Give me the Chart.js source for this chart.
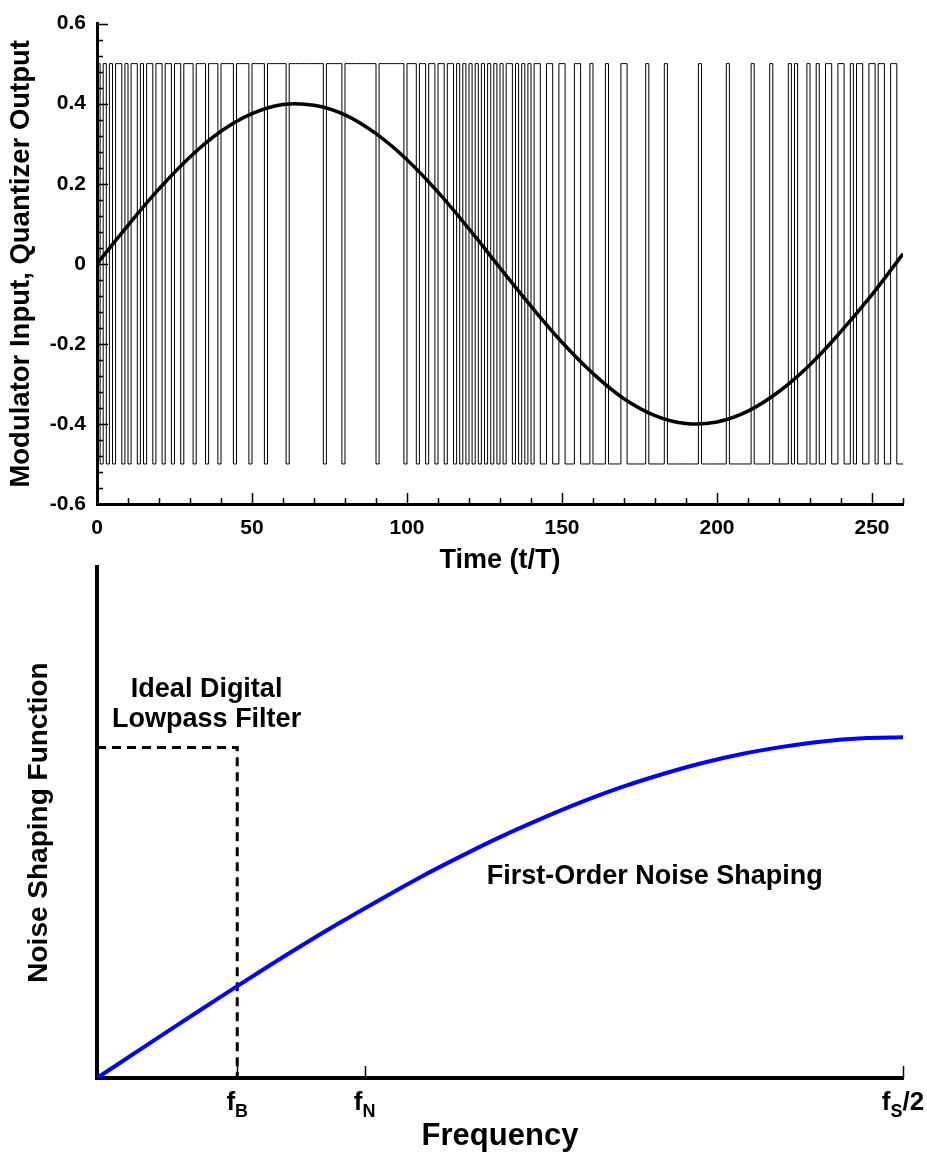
<!DOCTYPE html>
<html>
<head>
<meta charset="utf-8">
<script src="https://cdn.jsdelivr.net/npm/chart.js@4.4.1/dist/chart.umd.min.js"></script>
<style>
  html, body { margin: 0; padding: 0; background: #fff; }
  body { width: 927px; height: 1155px; position: relative; overflow: hidden; }
  canvas { position: absolute; left: 0; }
  #timeChart { top: 0; }
  #noiseChart { top: 545px; }
</style>
</head>
<body>
<canvas id="timeChart" width="927" height="580"></canvas>
<canvas id="noiseChart" width="927" height="610"></canvas>
<script>
const FONT = '"Liberation Sans", Arial, Helvetica, sans-serif';

// ---- top chart: modulator input and quantizer output ----
const inputTimes = [0, 10, 20, 30, 40, 50, 60, 70, 80, 90, 100, 110, 120, 130,
                    140, 150, 160, 170, 180, 190, 200, 210, 220, 230, 240, 250, 260];
const inputValues = [0, 0.096, 0.187, 0.267, 0.331, 0.375, 0.398, 0.396, 0.372, 0.325,
                     0.260, 0.179, 0.087, -0.010, -0.106, -0.196, -0.274, -0.337, -0.379,
                     -0.399, -0.395, -0.368, -0.319, -0.252, -0.169, -0.077, 0.025];
// one char per sample t/T = 0..259, 1 = +0.5, 0 = -0.5
const quantizerBits = [
  '10101011010110101101', '10110110111011101110', '11110111101111011111',
  '10111111111110111110', '11111111110111111110', '11101101101101101010',
  '10101010101011010101', '01100110011000110001', '00001000011000000100',
  '00010000000000100000', '00010000000100000100', '00010100010010011001',
  '10010110011011001100'
];
const quantLevels = [-0.5, 0.5];

// ---- bottom chart: noise shaping ----
const freqValues = [0, 0.025, 0.05, 0.075, 0.1, 0.125, 0.15, 0.175, 0.2, 0.225, 0.25,
                    0.275, 0.3, 0.325, 0.35, 0.375, 0.4, 0.425, 0.45, 0.475, 0.5];
const shapingValues = [0, 0.078, 0.156, 0.233, 0.309, 0.383, 0.454, 0.522, 0.588, 0.649,
                       0.707, 0.760, 0.809, 0.853, 0.891, 0.924, 0.951, 0.972, 0.988, 0.997, 1.0];
const filterFreq = [0, 0.087, 0.087];
const filterValues = [0.97, 0.97, 0];
const freqTickValues = [0.087, 0.166, 0.5];
const freqTickLabels = [['f', 'B', ''], ['f', 'N', ''], ['f', 'S', '/2']];

const notes = [
  { lines: ['Ideal Digital', 'Lowpass Filter'], x: 0.068, y: 1.14, size: 27, gap: 30 },
  { lines: ['First-Order Noise Shaping'], x: 0.346, y: 0.59, size: 27, gap: 0 }
];

const quantBits = quantizerBits.join('').split('').map(Number);
const quantPoints = quantBits.map((b, t) => ({ x: t, y: quantLevels[b] }));
quantPoints.push({ x: quantBits.length, y: quantPoints[quantPoints.length - 1].y });

const inputPoints = inputTimes.map((t, i) => ({ x: t, y: inputValues[i] }));

function isMultiple(v, step) {
  const k = v / step;
  return Math.abs(k - Math.round(k)) < 1e-6;
}

// ticks that point into the plot, major ones longer
const innerTicks = {
  id: 'innerTicks',
  afterDatasetsDraw(chart) {
    const ctx = chart.ctx;
    const area = chart.chartArea;
    const xs = chart.scales.x, ys = chart.scales.y;
    ctx.save();
    ctx.strokeStyle = '#000';
    ctx.lineWidth = 1.5;
    ctx.beginPath();
    xs.ticks.forEach(t => {
      const px = Math.round(xs.getPixelForValue(t.value)) + 0.5;
      const len = isMultiple(t.value, 50) ? 11 : 6;
      ctx.moveTo(px, area.bottom);
      ctx.lineTo(px, area.bottom - len);
    });
    ys.ticks.forEach(t => {
      const py = Math.round(ys.getPixelForValue(t.value)) + 0.5;
      const len = isMultiple(t.value, 0.2) ? 11 : 6;
      ctx.moveTo(area.left, py);
      ctx.lineTo(area.left + len, py);
    });
    ctx.stroke();
    ctx.restore();
  }
};

const commonPlugins = {
  legend: { display: false },
  tooltip: { enabled: false }
};

new Chart(document.getElementById('timeChart'), {
  type: 'line',
  data: {
    datasets: [{
      data: inputPoints,
      borderColor: '#000',
      borderWidth: 3.5,
      pointRadius: 0,
      tension: 0.4,
      order: 0
    }, {
      data: quantPoints,
      borderColor: '#000',
      borderWidth: 1,
      pointRadius: 0,
      stepped: true,
      order: 1
    }]
  },
  options: {
    responsive: false,
    animation: false,
    devicePixelRatio: 1,
    layout: { padding: { top: 19, right: 24, left: 0, bottom: 0 } },
    plugins: commonPlugins,
    scales: {
      x: {
        type: 'linear',
        min: 0, max: 260,
        afterFit(s) { s.height = 76; },
        grid: { display: false, drawTicks: false },
        border: { display: true, width: 3, color: '#000' },
        ticks: {
          stepSize: 10,
          autoSkip: false,
          maxRotation: 0,
          padding: 12,
          color: '#000',
          font: { family: FONT, size: 21, weight: 'bold' },
          callback: v => isMultiple(v, 50) ? String(v) : ''
        },
        title: {
          display: true,
          text: 'Time (t/T)',
          color: '#000',
          font: { family: FONT, size: 27, weight: 'bold' },
          padding: { top: 0, bottom: 3 }
        }
      },
      y: {
        min: -0.6, max: 0.6,
        afterFit(s) { s.width = 97; },
        grid: { display: false, drawTicks: false },
        border: { display: true, width: 3, color: '#000' },
        ticks: {
          stepSize: 0.04,
          autoSkip: false,
          padding: 11,
          color: '#000',
          font: { family: FONT, size: 21, weight: 'bold' },
          callback: v => {
            if (!isMultiple(v, 0.2)) return '';
            const k = Math.round(v / 0.2);
            return k === 0 ? '0' : (k * 0.2).toFixed(1);
          }
        },
        title: {
          display: true,
          text: 'Modulator Input, Quantizer Output',
          color: '#000',
          font: { family: FONT, size: 27.5, weight: 'bold' },
          padding: { top: 5, bottom: 0 }
        }
      }
    }
  },
  plugins: [innerTicks]
});

// frequency ticks with subscript labels, plus the text notes
const freqDecor = {
  id: 'freqDecor',
  afterDatasetsDraw(chart) {
    const ctx = chart.ctx;
    const area = chart.chartArea;
    const xs = chart.scales.x, ys = chart.scales.y;
    ctx.save();
    ctx.strokeStyle = '#000';
    ctx.lineWidth = 1.5;
    ctx.beginPath();
    freqTickValues.forEach(v => {
      const px = Math.round(xs.getPixelForValue(v)) + 0.5;
      ctx.moveTo(px, area.bottom);
      ctx.lineTo(px, area.bottom - 12);
    });
    ctx.stroke();

    ctx.fillStyle = '#000';
    ctx.textBaseline = 'alphabetic';
    ctx.textAlign = 'left';
    const mainFont = 'bold 26px ' + FONT;
    const subFont = 'bold 18px ' + FONT;
    freqTickValues.forEach((v, i) => {
      const [a, b, c] = freqTickLabels[i];
      ctx.font = mainFont;
      const wa = ctx.measureText(a).width, wc = ctx.measureText(c).width;
      ctx.font = subFont;
      const wb = ctx.measureText(b).width;
      let x = xs.getPixelForValue(v) - (wa + wb + wc) / 2;
      const base = area.bottom + 32;
      ctx.font = mainFont;
      ctx.fillText(a, x, base);
      x += wa;
      ctx.font = subFont;
      ctx.fillText(b, x, base + 7);
      x += wb;
      ctx.font = mainFont;
      ctx.fillText(c, x, base);
    });

    ctx.textAlign = 'center';
    ctx.textBaseline = 'middle';
    notes.forEach(n => {
      ctx.font = 'bold ' + n.size + 'px ' + FONT;
      const px = xs.getPixelForValue(n.x);
      const py = ys.getPixelForValue(n.y);
      n.lines.forEach((line, j) => ctx.fillText(line, px, py + j * n.gap));
    });
    ctx.restore();
  }
};

new Chart(document.getElementById('noiseChart'), {
  type: 'line',
  data: {
    datasets: [{
      data: freqValues.map((f, i) => ({ x: f, y: shapingValues[i] })),
      borderColor: '#0000ff',
      borderWidth: 4,
      pointRadius: 0,
      tension: 0.3
    }, {
      data: filterFreq.map((f, i) => ({ x: f, y: filterValues[i] })),
      borderColor: '#000',
      borderWidth: 3,
      borderDash: [9, 6],
      pointRadius: 0,
      tension: 0
    }]
  },
  options: {
    responsive: false,
    animation: false,
    devicePixelRatio: 1,
    layout: { padding: { top: 22, right: 24, left: 0, bottom: 0 } },
    plugins: commonPlugins,
    scales: {
      x: {
        type: 'linear',
        min: 0, max: 0.5,
        afterFit(s) { s.height = 77; },
        grid: { display: false, drawTicks: false },
        border: { display: true, width: 4, color: '#000' },
        ticks: { display: false },
        title: {
          display: true,
          text: 'Frequency',
          color: '#000',
          font: { family: FONT, size: 31, weight: 'bold' },
          padding: { top: 0, bottom: 0 }
        }
      },
      y: {
        min: 0, max: 1.5,
        afterFit(s) { s.width = 97; },
        grid: { display: false, drawTicks: false },
        border: { display: true, width: 4, color: '#000' },
        ticks: { display: false },
        title: {
          display: true,
          text: 'Noise Shaping Function',
          color: '#000',
          font: { family: FONT, size: 28, weight: 'bold' },
          padding: { top: 22, bottom: 0 }
        }
      }
    }
  },
  plugins: [freqDecor]
});
</script>
</body>
</html>
